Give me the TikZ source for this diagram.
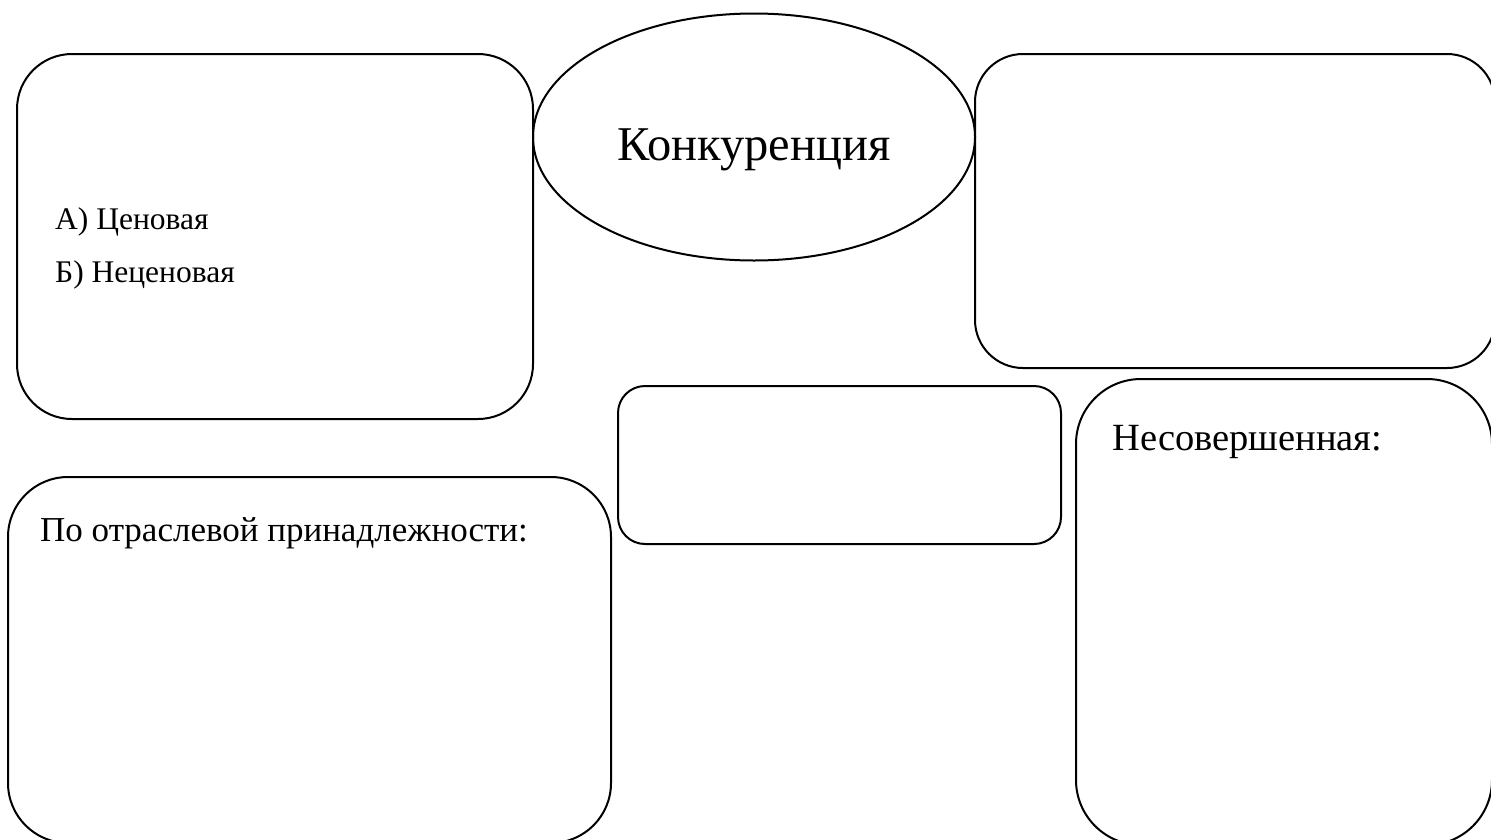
\documentclass[tikz,border=0pt]{standalone}
\usepackage{fontspec}
\setmainfont{Liberation Serif}
\usetikzlibrary{shapes.geometric}
\begin{document}
\begin{tikzpicture}[x=1pt,y=-1pt,
  box/.style={draw=black,line width=2pt,rectangle,inner sep=0pt},
  oval/.style={draw=black,line width=2pt,ellipse,inner sep=0pt},
  lbl/.style={anchor=base west,inner sep=0pt,font=\fontsize{31.5}{38}\selectfont}]
\clip (0,0) rectangle (1491,839);
\useasboundingbox (0,0) rectangle (1491,839);
\node[box,minimum width=516pt,minimum height=365pt,rounded corners=55pt] (b1) at (275,236.5) {};
\node[box,minimum width=603pt,minimum height=366pt,rounded corners=60pt] (b2) at (309.5,660) {};
\node[box,minimum width=520pt,minimum height=314pt,rounded corners=48pt] (b3) at (1235,211) {};
\node[box,minimum width=443pt,minimum height=158pt,rounded corners=27pt] (b4) at (839.5,465) {};
\node[box,minimum width=416pt,minimum height=466pt,rounded corners=65pt] (b5) at (1284,612) {};
\node[oval,minimum width=442pt,minimum height=247pt] (el) at (754,137) {};
\node[anchor=base,inner sep=0pt,font=\fontsize{48.5}{56}\selectfont] (t0) at (754,160) {Конкуренция};
\node[lbl] (t1) at (55,229) {А) Ценовая};
\node[lbl] (t2) at (55,282) {Б) Неценовая};
\node[lbl,font=\fontsize{35}{42}\selectfont] (t3) at (40,541) {По отраслевой принадлежности:};
\node[lbl,font=\fontsize{38.5}{46}\selectfont] (t4) at (1112,450) {Несовершенная:};
\end{tikzpicture}
\end{document}
